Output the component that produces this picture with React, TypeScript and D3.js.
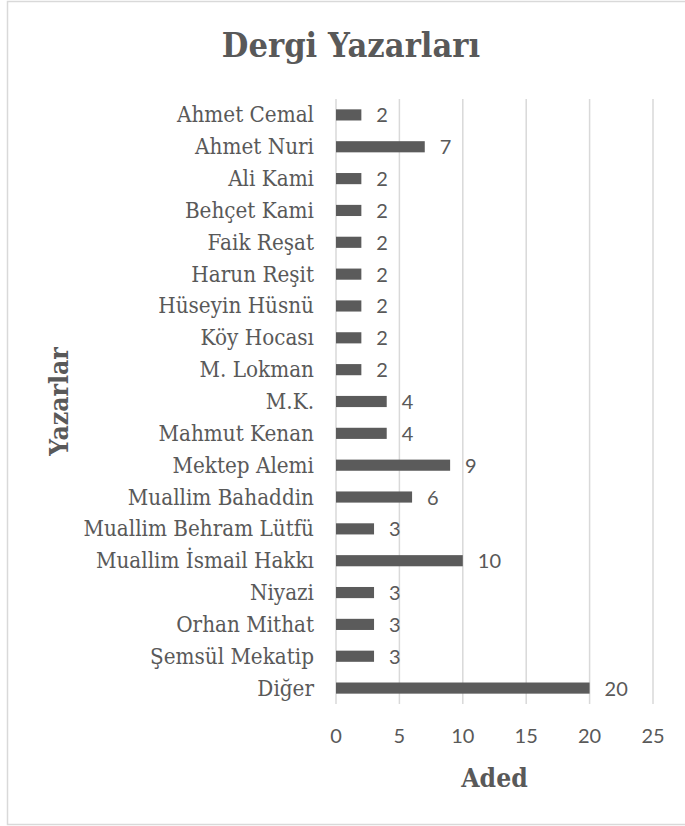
import { useEffect, useRef } from "react";
import * as d3 from "d3";

// authors, top to bottom
const authors: string[] = [
  "Ahmet Cemal",
  "Ahmet Nuri",
  "Ali Kami",
  "Behçet Kami",
  "Faik Reşat",
  "Harun Reşit",
  "Hüseyin Hüsnü",
  "Köy Hocası",
  "M. Lokman",
  "M.K.",
  "Mahmut Kenan",
  "Mektep Alemi",
  "Muallim Bahaddin",
  "Muallim Behram Lütfü",
  "Muallim İsmail Hakkı",
  "Niyazi",
  "Orhan Mithat",
  "Şemsül Mekatip",
  "Diğer",
];

const counts: number[] = [2, 7, 2, 2, 2, 2, 2, 2, 2, 4, 4, 9, 6, 3, 10, 3, 3, 3, 20];

const xTicks: number[] = [0, 5, 10, 15, 20, 25];

export default function App() {
  const svgRef = useRef(null);

  useEffect(() => {
    const width = 685;
    const height = 826;
    const plot = { left: 336, right: 653, top: 99, bottom: 704 };
    const textColor = "#595959";
    const gridColor = "#d9d9d9";
    // serif text is squeezed a little so it is as tall as the original
    const serif = "'DejaVu Serif', serif";
    const sans = "Lato, 'Open Sans', sans-serif";

    const svg = d3
      .select(svgRef.current)
      .attr("width", width)
      .attr("height", height);

    svg.selectAll("*").remove();

    // chart frame
    svg
      .append("rect")
      .attr("x", 7.5)
      .attr("y", 1.5)
      .attr("width", 700)
      .attr("height", 823)
      .attr("fill", "#fff")
      .attr("stroke", gridColor)
      .attr("stroke-width", 1.5);

    const xScale = d3.scaleLinear().domain([0, 25]).range([plot.left, plot.right]);

    const yScale = d3
      .scaleBand()
      .domain(authors)
      .range([plot.top, plot.bottom])
      .paddingInner(0.65)
      .paddingOuter(0.325);

    // vertical gridlines
    svg
      .append("g")
      .selectAll("line")
      .data(xTicks)
      .join("line")
      .attr("x1", (d) => xScale(d))
      .attr("x2", (d) => xScale(d))
      .attr("y1", plot.top)
      .attr("y2", plot.bottom)
      .attr("stroke", gridColor)
      .attr("stroke-width", 1.5);

    // tick labels
    svg
      .append("g")
      .selectAll("text")
      .data(xTicks)
      .join("text")
      .attr("x", (d) => xScale(d))
      .attr("y", 743)
      .attr("text-anchor", "middle")
      .attr("font-family", sans)
      .attr("font-size", 20)
      .attr("fill", textColor)
      .text((d) => d);

    const rows = authors.map((name, i) => ({ name, value: counts[i] }));

    // bars
    svg
      .append("g")
      .selectAll("rect")
      .data(rows)
      .join("rect")
      .attr("x", xScale(0))
      .attr("y", (d) => yScale(d.name) || 0)
      .attr("width", (d) => xScale(d.value) - xScale(0))
      .attr("height", yScale.bandwidth())
      .attr("fill", "#5b5b5b");

    // value labels
    svg
      .append("g")
      .selectAll("text")
      .data(rows)
      .join("text")
      .attr("x", (d) => xScale(d.value) + 15)
      .attr("y", (d) => (yScale(d.name) || 0) + yScale.bandwidth() / 2 + 7.5)
      .attr("font-family", sans)
      .attr("font-size", 20)
      .attr("fill", textColor)
      .text((d) => d.value);

    // category labels
    svg
      .append("g")
      .selectAll("text")
      .data(authors)
      .join("text")
      .attr(
        "transform",
        (d) =>
          `translate(${plot.left - 22},${(yScale(d) || 0) + yScale.bandwidth() / 2 + 7.5}) scale(0.91,1)`
      )
      .attr("text-anchor", "end")
      .attr("font-family", serif)
      .attr("font-size", 22)
      .attr("fill", textColor)
      .text((d) => d);

    // title
    svg
      .append("text")
      .attr("transform", "translate(351,57) scale(0.93,1)")
      .attr("text-anchor", "middle")
      .attr("font-family", serif)
      .attr("font-weight", "bold")
      .attr("font-size", 33)
      .attr("fill", textColor)
      .text("Dergi Yazarları");

    // axis titles
    svg
      .append("text")
      .attr("transform", `translate(${(plot.left + plot.right) / 2},787) scale(0.91,1)`)
      .attr("text-anchor", "middle")
      .attr("font-family", serif)
      .attr("font-weight", "bold")
      .attr("font-size", 26)
      .attr("fill", textColor)
      .text("Aded");

    svg
      .append("text")
      .attr(
        "transform",
        `translate(68,${(plot.top + plot.bottom) / 2}) rotate(-90) scale(0.91,1)`
      )
      .attr("text-anchor", "middle")
      .attr("font-family", serif)
      .attr("font-weight", "bold")
      .attr("font-size", 26)
      .attr("fill", textColor)
      .text("Yazarlar");
  }, []);

  return (
    <svg ref={svgRef} style={{ position: "absolute", left: 0, top: 0 }}></svg>
  );
}
